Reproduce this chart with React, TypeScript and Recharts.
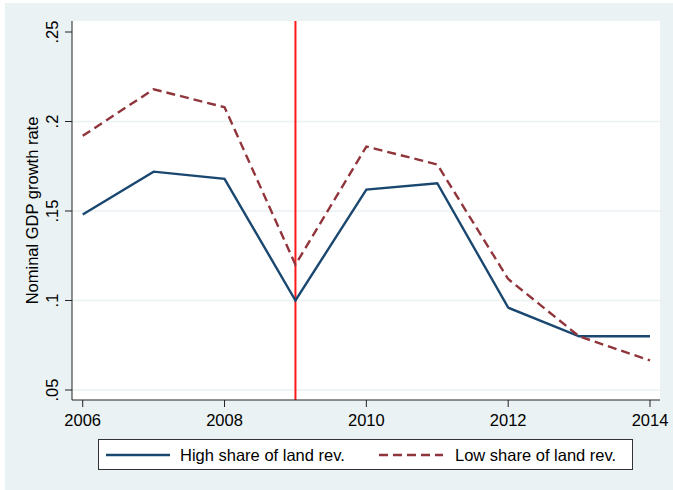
import { LineChart, Line, XAxis, YAxis, CartesianGrid, ReferenceLine, Legend, Label } from 'recharts'

// Nominal GDP growth by group, 2006-2014
const years = [2006, 2007, 2008, 2009, 2010, 2011, 2012, 2013, 2014]
const highShare = [0.148, 0.172, 0.168, 0.1, 0.162, 0.1655, 0.096, 0.08, 0.08]
const lowShare = [0.192, 0.218, 0.208, 0.12, 0.186, 0.176, 0.112, 0.08, 0.0665]

const seriesNames = ['High share of land rev.', 'Low share of land rev.']
const xTicks = [2006, 2008, 2010, 2012, 2014]
const yTicks = [0.05, 0.1, 0.15, 0.2, 0.25]
const yTickLabels = ['.05', '.1', '.15', '.2', '.25']
const breakYear = 2009

const data = years.map((year, i) => ({
  year,
  high: highShare[i],
  low: lowShare[i],
}))

const FONT = '"Liberation Sans", Arial, sans-serif'
const FONT_SIZE = 16.5
const NAVY = '#1a476f'
const MAROON = '#90353b'
const AXIS = '#222'

const YTick = ({ x, y, payload }: any) => {
  const i = yTicks.indexOf(payload.value)
  return (
    <text
      x={x}
      y={y}
      transform={`rotate(-90 ${x} ${y})`}
      textAnchor="middle"
      fontSize={FONT_SIZE}
      fontFamily={FONT}
      fill="#000"
    >
      {i >= 0 ? yTickLabels[i] : payload.value}
    </text>
  )
}

const LegendBox = () => (
  <div
    style={{
      marginLeft: 98,
      width: 535,
      height: 31,
      boxSizing: 'border-box',
      border: '1px solid #333',
      background: '#fff',
      position: 'relative',
    }}
  >
    <svg width={535} height={29} style={{ position: 'absolute', left: 0, top: 0 }}>
      <line x1={7} x2={71} y1={15} y2={15} stroke={NAVY} strokeWidth={2.4} />
      <text x={81} y={21} fontSize={FONT_SIZE} fontFamily={FONT}>{seriesNames[0]}</text>
      <line x1={280} x2={344} y1={15} y2={15} stroke={MAROON} strokeWidth={2.4} strokeDasharray="9 5" />
      <text x={356} y={21} fontSize={FONT_SIZE} fontFamily={FONT}>{seriesNames[1]}</text>
    </svg>
  </div>
)

export default function App() {
  return (
    <div style={{ position: 'fixed', left: 0, top: 0, width: 673, height: 490, background: '#fff' }}>
      <div style={{ position: 'absolute', left: 5, top: 3, width: 668, height: 487, background: '#eaf2f3' }} />
      <div style={{ position: 'absolute', left: 0, top: 0 }}>
        <LineChart width={673} height={490} data={data} margin={{ top: 21, right: 13, bottom: 20, left: 0 }}>
          <CartesianGrid
            vertical={false}
            horizontalValues={[0.05, 0.1, 0.15, 0.2]}
            stroke="#eaf2f3"
            strokeWidth={1.5}
            fill="#fff"
            fillOpacity={1}
          />
          <XAxis
            dataKey="year"
            type="number"
            domain={[2005.849, 2014.141]}
            ticks={xTicks}
            allowDataOverflow
            height={39}
            tickSize={7}
            tickMargin={7}
            stroke={AXIS}
            tick={{ fontSize: FONT_SIZE, fontFamily: FONT, fill: '#000' }}
            tickLine={{ stroke: AXIS }}
          />
          <YAxis
            type="number"
            domain={[0.04441, 0.25615]}
            ticks={yTicks}
            allowDataOverflow
            width={72}
            tickSize={7}
            tickMargin={7}
            stroke={AXIS}
            tick={<YTick />}
            tickLine={{ stroke: AXIS }}
          >
            <Label
              content={({ viewBox }: any) => {
                const cy = viewBox.y + viewBox.height / 2
                return (
                  <text
                    x={38}
                    y={cy}
                    transform={`rotate(-90 38 ${cy})`}
                    textAnchor="middle"
                    fontSize={FONT_SIZE}
                    fontFamily={FONT}
                    fill="#000"
                  >
                    Nominal GDP growth rate
                  </text>
                )
              }}
            />
          </YAxis>
          <ReferenceLine x={breakYear} stroke="#ff1a1a" strokeWidth={2} />
          <Line
            type="linear"
            dataKey="high"
            name={seriesNames[0]}
            stroke={NAVY}
            strokeWidth={2.4}
            dot={false}
            isAnimationActive={false}
          />
          <Line
            type="linear"
            dataKey="low"
            name={seriesNames[1]}
            stroke={MAROON}
            strokeWidth={2.4}
            strokeDasharray="9 5"
            dot={false}
            isAnimationActive={false}
          />
          <Legend
            verticalAlign="bottom"
            wrapperStyle={{ left: 0, bottom: 20, width: 673, height: 31 }}
            content={<LegendBox />}
          />
        </LineChart>
      </div>
    </div>
  )
}
